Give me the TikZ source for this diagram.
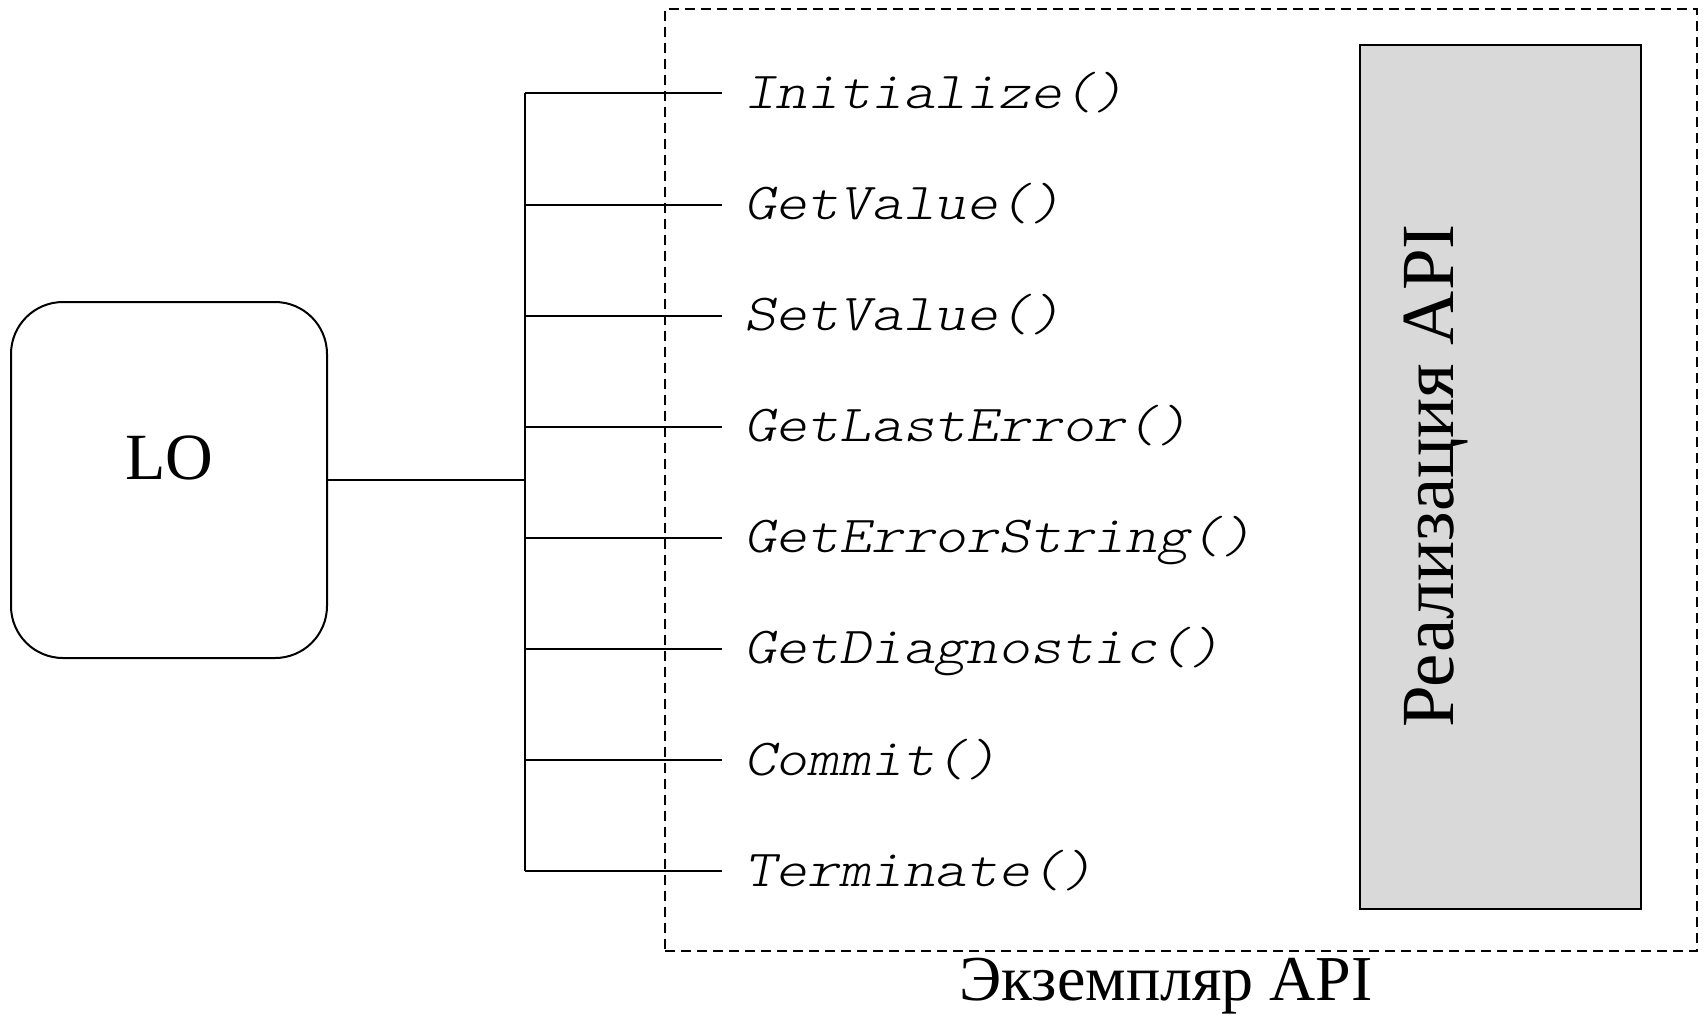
\documentclass[tikz,border=0pt]{standalone}
\usepackage{fontspec}
\setmainfont{Liberation Serif}
% light slanted typewriter face for the method names
\newfontfamily\methfont{lmmonolt10-oblique.otf}[FakeStretch=1.165]
\begin{document}
\begin{tikzpicture}[x=0.5pt,y=-0.5pt,
  line width=1pt,
  objbox/.style={draw, rounded corners=26pt, minimum width=158pt, minimum height=178pt, inner sep=0pt, outer sep=0pt},
  instbox/.style={draw, dashed, dash pattern=on 5pt off 3pt, minimum width=516pt, minimum height=471pt, inner sep=0pt, outer sep=0pt},
  implbox/.style={draw, fill=black!15, minimum width=140.5pt, minimum height=432pt, inner sep=0pt, outer sep=0pt},
  method/.style={anchor=base west, inner sep=0pt, font=\fontsize{26}{30}\selectfont\methfont},
  bigtext/.style={anchor=base, inner sep=0pt, font=\fontsize{32}{38}\selectfont},
]
\useasboundingbox (0,0) rectangle (1703,1014);

% Learning object
\node[objbox] (lo) at (169,480) {};
\node[anchor=base, inner sep=0pt, font=\fontsize{33}{40}\selectfont] (lotext) at (169,479) {LO};

% API instance (dashed frame) and its implementation block
\node[instbox] (inst) at (1181,480) {};
\node[implbox] (impl) at (1500.5,477) {};
\node[anchor=base, rotate=90, inner sep=0pt, font=\fontsize{37.5}{44}\selectfont] (impltext) at (1453,476) {Реализация API};
\node[bigtext] (insttext) at (1166,1000) {Экземпляр API};

% Method rows: bus tap, branch end, label
\foreach \i/\name in {1/Initialize(), 2/GetValue(), 3/SetValue(), 4/GetLastError(),
                      5/GetErrorString(), 6/GetDiagnostic(), 7/Commit(), 8/Terminate()} {
  \pgfmathsetmacro{\yy}{93.4+(\i-1)*111.1}
  \coordinate (b\i) at (525,\yy);
  \coordinate (t\i) at (722,\yy);
  \node[method] (m\i) at (743,\yy+15) {\name};
  \draw (b\i) -- (t\i);
}

% Bus and the link from the learning object
\draw (b1) -- (b8);
\coordinate (jn) at (525,480);
\draw (lo.east) -- (jn);
\end{tikzpicture}
\end{document}
